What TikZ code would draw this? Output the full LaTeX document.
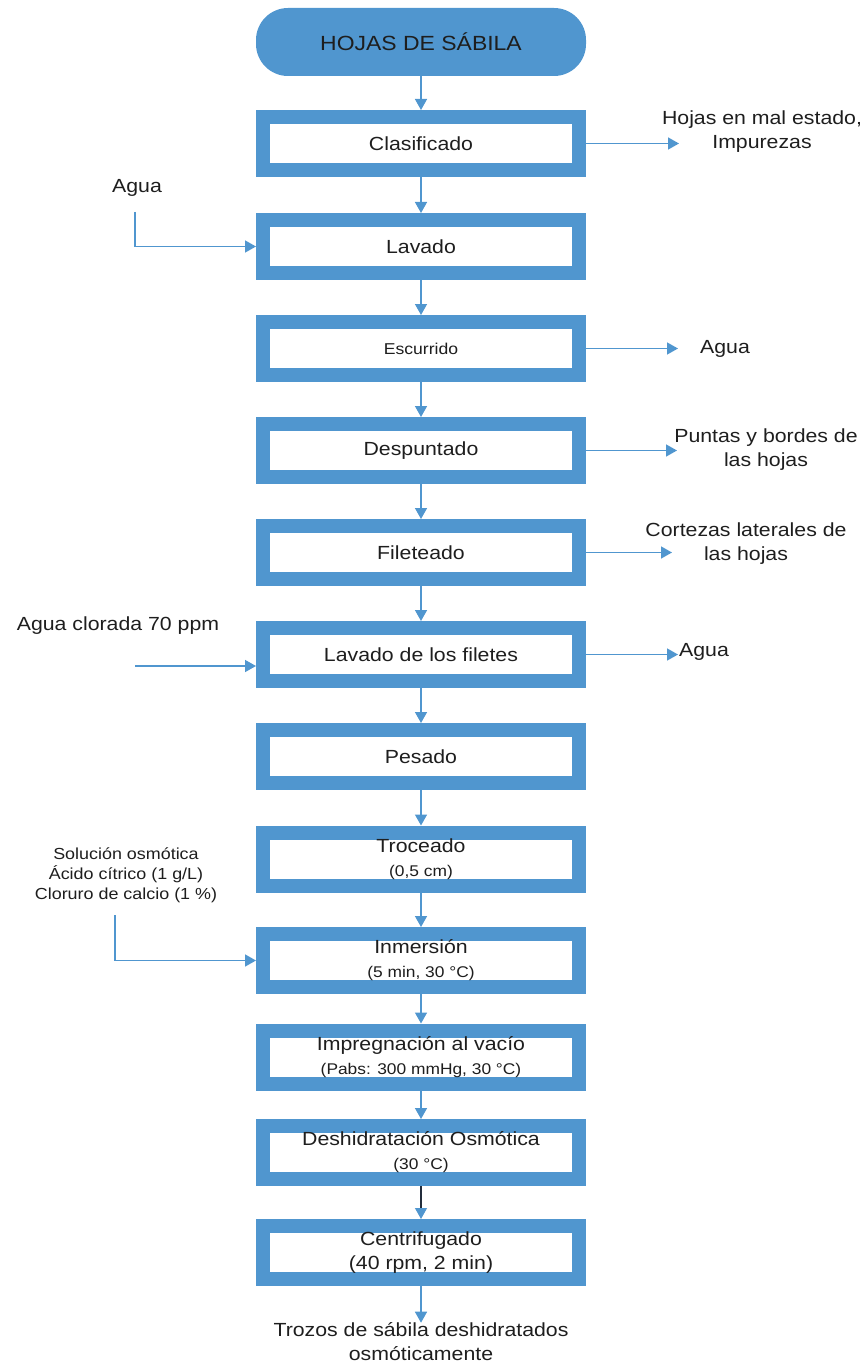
\documentclass[tikz,border=0pt]{standalone}
\usepackage{fontspec}
\setmainfont{Liberation Sans}[FakeStretch=1.12]
\usetikzlibrary{arrows.meta}
\definecolor{bblue}{RGB}{80,150,207}
\definecolor{txt}{RGB}{30,30,30}
\definecolor{dline}{RGB}{35,45,60}
\newcommand\mainf{\fontsize{19}{24}\selectfont}
\newcommand\subf{\fontsize{15.5}{24}\selectfont}
\newcommand\lblf{\fontsize{16}{20}\selectfont}
\begin{document}
\begin{tikzpicture}[x=1pt,y=-1pt,
  stepbox/.style={draw=bblue,line width=14pt,fill=white,minimum width=316pt,minimum height=53pt,inner sep=0pt,align=center,font=\mainf,text=txt},
  arr/.style={draw=bblue,line width=1.5pt,-{Triangle[length=11pt,width=12pt,color=bblue]}},
  lbl/.style={align=center,font=\mainf,text=txt,inner sep=0pt}]
\useasboundingbox (0,0) rectangle (867,1364);

% start terminator
\node[fill=bblue,rounded corners=32pt,minimum width=330pt,minimum height=68pt,inner sep=0pt,
      font=\fontsize{20.5}{24}\selectfont,text=txt] (start) at (421,42) {HOJAS DE SÁBILA};

% process boxes
\node[stepbox] (clas) at (421,143.5) {Clasificado};
\node[stepbox] (lav)  at (421,246.5) {Lavado};
\node[stepbox,font=\fontsize{15.7}{20}\selectfont] (esc) at (421,348.5) {Escurrido};
\node[stepbox] (desp) at (421,450.5) {Despuntado};
\node[stepbox] (fil)  at (421,552.5) {Fileteado};
\node[stepbox] (lfil) at (421,654.5) {Lavado de los filetes};
\node[stepbox] (pes)  at (421,756.5) {Pesado};
\node[stepbox] (troc) at (421,859) {Troceado\\{\subf (0,5 cm)}};
\node[stepbox] (inm)  at (421,960.5) {Inmersión\\{\subf (5 min, 30 °C)}};
\node[stepbox] (imp)  at (421,1057) {Impregnación al vacío\\{\subf (Pabs: 300 mmHg, 30 °C)}};
\node[stepbox] (desh) at (421,1152.5) {Deshidratación Osmótica\\{\subf (30 °C)}};
\node[stepbox] (cent) at (421,1252.5) {Centrifugado\\(40 rpm, 2 min)};

% main flow arrows
\draw[arr] (start) -- (clas);
\draw[arr] (clas) -- (lav);
\draw[arr] (lav) -- (esc);
\draw[arr] (esc) -- (desp);
\draw[arr] (desp) -- (fil);
\draw[arr] (fil) -- (lfil);
\draw[arr] (lfil) -- (pes);
\draw[arr] (pes) -- (troc);
\draw[arr] (troc) -- (inm);
\draw[arr] (inm) -- (imp);
\draw[arr] (imp) -- (desh);
\draw[arr,draw=dline,line width=1.2pt] (desh) -- (cent);

% final product
\node[lbl] (prod) at (421,1342) {Trozos de sábila deshidratados\\osmóticamente};
\draw[arr] (cent) -- (prod);

% right outputs
\node[lbl] (o1) at (762,132) {Hojas en mal estado,\\Impurezas};
\coordinate (r1) at (679,143.5);
\draw[arr] (clas) -- (r1);

\node[lbl] (o2) at (725,349) {Agua};
\coordinate (r2) at (678,348.5);
\draw[arr] (esc) -- (r2);

\node[lbl] (o3) at (766,450) {Puntas y bordes de\\las hojas};
\coordinate (r3) at (677,450.5);
\draw[arr] (desp) -- (r3);

\node[lbl] (o4) at (746,544) {Cortezas laterales de\\las hojas};
\coordinate (r4) at (672,552.5);
\draw[arr] (fil) -- (r4);

\node[lbl] (o5) at (704,652) {Agua};
\coordinate (r5) at (678,654.5);
\draw[arr] (lfil) -- (r5);

% left inputs
\node[lbl] (i1) at (137,188) {Agua};
\coordinate (l1) at (135,212);
\draw[arr] (l1) |- (lav);

\node[lbl] (i2) at (118,626) {Agua clorada 70 ppm};
\coordinate (l2) at (135,666);
\draw[arr] (l2) -- (l2 -| lfil.west);

\node[lbl,font=\lblf] (i3) at (126,875) {Solución osmótica\\Ácido cítrico (1 g/L)\\Cloruro de calcio (1 \%)};
\coordinate (l3) at (115,915);
\draw[arr] (l3) |- (inm);
\end{tikzpicture}
\end{document}
